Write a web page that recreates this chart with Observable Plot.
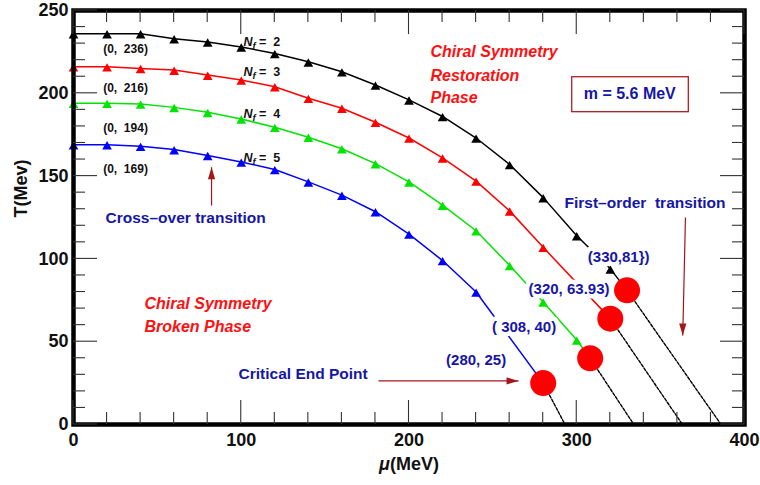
<!DOCTYPE html>
<html>
<head>
<meta charset="utf-8">
<script src="https://cdn.jsdelivr.net/npm/d3@7"></script>
<script src="https://cdn.jsdelivr.net/npm/@observablehq/plot@0.6"></script>
<style>
  html, body { margin: 0; padding: 0; background: #fff; }
  #chart svg { display: block; }
</style>
</head>
<body>
<div id="chart"></div>
<script>
// ---------- data ----------
const mu = [0, 20, 40, 60, 80, 100, 120, 140, 160, 180, 200, 220, 240, 260, 280, 300, 320];
const T_nf2 = [236, 236, 236, 233, 231, 228, 224, 219, 213, 205, 196, 186, 173, 157, 137, 114, 94];
const T_nf3 = [216, 216, 215, 214, 211, 208, 204, 197, 191, 182.5, 173, 161, 147, 129, 107];
const T_nf4 = [194, 194, 193.5, 191.5, 188.5, 184.5, 179.5, 173.5, 166.5, 157.5, 146.5, 132.5, 117, 96, 74, 51];
const T_nf5 = [169, 169, 168, 166, 162.5, 158.5, 154, 146.5, 138.5, 128.5, 115, 99, 80];
const nfValues = [2, 3, 4, 5];
const cepMu = [330, 320, 308, 280];
const cepT = [81, 63.93, 40, 25];
const cepLabels = ["(330,81})", "(320, 63.93)", "( 308, 40)", "(280, 25)"];
const zeroMu = [386, 363, 334, 293];          // where the first-order (dashed) lines reach T = 0
const startLabels = ["(0,  236)", "(0,  216)", "(0,  194)", "(0,  169)"];
const xTicksMajor = [0, 100, 200, 300, 400];
const xTicksMinor = [20, 40, 60, 80, 120, 140, 160, 180, 220, 240, 260, 280, 320, 340, 360, 380];
const yTicksMajor = [0, 50, 100, 150, 200, 250];
const yTicksMinor = [10, 20, 30, 40, 60, 70, 80, 90, 110, 120, 130, 140, 160, 170, 180, 190, 210, 220, 230, 240];

// ---------- layout & styling ----------
const W = 760, H = 485, ML = 73, MR = 16, MT = 10, MB = 61;
const X_DOMAIN = [0, 400], Y_DOMAIN = [0, 250];
const MAJOR = 24, MINOR = 12;   // inward tick lengths in px
const seriesT = [T_nf2, T_nf3, T_nf4, T_nf5];
const seriesColors = ["#000000", "#ff0000", "#00e400", "#0000ff"];
const navy = "#1616a6";
const arrowRed = "#a3161a";
const FONT = "'Liberation Sans', Arial, Helvetica, sans-serif";

// annotation anchors (data units)
const cepLabelPos = [[325, 100.8], [295.4, 81.5], [268.6, 58.6], [240, 38.6]];
const startLabelPos = [[17.7, 226.4], [17.7, 202.9], [17.7, 178.7], [17.7, 154.2]];
const nfLabelPos = [[101.3, 230.7], [101.3, 212.6], [101.3, 187.2], [101.3, 161]];

const marks = [];

// solid crossover curves + dashed first-order lines + triangles
seriesT.forEach((T, s) => {
  const pts = T.map((t, i) => ({mu: mu[i], T: t}));
  const lineRows = pts.concat([{mu: cepMu[s], T: cepT[s]}]);
  marks.push(Plot.line(lineRows, {x: "mu", y: "T", stroke: seriesColors[s], strokeWidth: 1.5}));
  marks.push(Plot.line([{mu: cepMu[s], T: cepT[s]}, {mu: zeroMu[s], T: 0}],
    {x: "mu", y: "T", stroke: "#000", strokeWidth: 1.4, strokeDasharray: "3,1.6"}));
  marks.push(Plot.dot(pts, {x: "mu", y: "T", symbol: "triangle", r: 3.6, fill: seriesColors[s], stroke: "none", dy: 2}));
});

// labels near the critical end points (white box behind)
marks.push(Plot.text(cepLabels.map((t, i) => ({t, mu: cepLabelPos[i][0], T: cepLabelPos[i][1]})), {
  x: "mu", y: "T", text: "t", fill: navy, stroke: "white", strokeWidth: 9, strokeLinejoin: "round",
  fontSize: 15, fontWeight: "bold", textAnchor: "middle"
}));

// critical end points
marks.push(Plot.dot(cepMu.map((m, i) => ({mu: m, T: cepT[i]})), {x: "mu", y: "T", r: 13, fill: "#ff0000", stroke: "none"}));

// (0, T) labels
marks.push(Plot.text(startLabels.map((t, i) => ({t, mu: startLabelPos[i][0], T: startLabelPos[i][1]})), {
  x: "mu", y: "T", text: "t", fill: "#111", fontSize: 12, fontWeight: "bold", textAnchor: "start"
}));

// N_f labels
marks.push(Plot.text(nfValues.map((n, i) => ({t: "N_f = " + n, mu: nfLabelPos[i][0], T: nfLabelPos[i][1]})), {
  x: "mu", y: "T", text: "t", fill: "#111", fontSize: 12.5, fontWeight: "bold", textAnchor: "start"
}));

function note(text, x, y, opts) {
  return Plot.text([{text, x, y}], Object.assign({x: "x", y: "y", text: "text", fontWeight: "bold", textAnchor: "start"}, opts));
}
// phase labels
marks.push(note("Chiral Symmetry", 212.8, 224.8, {fill: "#ff1010", fontSize: 16, fontStyle: "italic"}));
marks.push(note("Restoration", 212.8, 210.7, {fill: "#ff1010", fontSize: 16, fontStyle: "italic"}));
marks.push(note("Phase", 212.8, 197.3, {fill: "#ff1010", fontSize: 16, fontStyle: "italic"}));
marks.push(note("Chiral Symmetry", 42.3, 72.9, {fill: "#ff1010", fontSize: 16, fontStyle: "italic"}));
marks.push(note("Broken Phase", 42.3, 58.8, {fill: "#ff1010", fontSize: 16, fontStyle: "italic"}));

// mass box
marks.push(Plot.rect([{x1: 297.3, x2: 366.8, y1: 188.6, y2: 209.7}],
  {x1: "x1", x2: "x2", y1: "y1", y2: "y2", fill: "white", stroke: "#b01e22", strokeWidth: 1.3}));
marks.push(note("m = 5.6 MeV", 331.6, 199.7, {fill: navy, fontSize: 16, textAnchor: "middle"}));

// other annotations
marks.push(note("First\u2013order  transition", 292.7, 133.5, {fill: navy, fontSize: 15.5}));
marks.push(note("Critical End Point", 98.4, 30.2, {fill: navy, fontSize: 15.5}));
marks.push(note("Cross\u2013over transition", 19.1, 124.8, {fill: navy, fontSize: 15.5}));

// arrows: shaft + filled narrow head
const headSymbol = {draw(ctx) { ctx.moveTo(0, 0); ctx.lineTo(3.6, 12); ctx.lineTo(-3.6, 12); ctx.closePath(); }};
const arrows = [
  {x1: 82.3, y1: 132.2, x2: 82.3, y2: 155.4, rot: 0},     // cross-over (up)
  {x1: 181.8, y1: 26.3, x2: 265.3, y2: 26.3, rot: 90},    // critical end point (right)
  {x1: 364.8, y1: 125, x2: 363.2, y2: 53.7, rot: 180}     // first-order (down)
];
marks.push(Plot.link(arrows, {x1: "x1", y1: "y1", x2: "x2", y2: "y2", stroke: arrowRed, strokeWidth: 1.2}));
marks.push(Plot.dot(arrows, {x: "x2", y: "y2", symbol: headSymbol, r: 4, fill: arrowRed, stroke: "none", rotate: "rot"}));

// tick labels
marks.push(Plot.axisX({anchor: "bottom", ticks: xTicksMajor, tickSize: 0, tickPadding: 9, label: null, fontSize: 18, fontWeight: "bold", fill: "#111"}));
marks.push(Plot.axisY({anchor: "left", ticks: yTicksMajor, tickSize: 0, tickPadding: 5, label: null, fontSize: 18, fontWeight: "bold", fill: "#111"}));

// axis titles
marks.push(Plot.text(["\u03bc(MeV)"], {text: d => d, frameAnchor: "bottom", dy: 45, fontSize: 18, fontWeight: "bold", fill: "#111"}));
marks.push(Plot.text(["T(Mev)"], {text: d => d, frameAnchor: "left", dx: -52.5, rotate: -90, fontSize: 18, fontWeight: "bold", fill: "#111"}));

// frame
marks.push(Plot.frame({stroke: "#000", strokeWidth: 4.5}));

const chart = Plot.plot({
  width: W,
  height: H,
  marginLeft: ML,
  marginRight: MR,
  marginTop: MT,
  marginBottom: MB,
  x: {domain: X_DOMAIN},
  y: {domain: Y_DOMAIN},
  style: {fontFamily: FONT, background: "white", overflow: "visible"},
  marks
});

// rich text: italic N with subscript f, italic mu
d3.select(chart).selectAll("text").each(function () {
  const el = d3.select(this);
  const t = this.textContent;
  const m = t.match(/^N_f(.*)$/);
  if (m) {
    el.text(null);
    el.append("tspan").attr("font-style", "italic").text("N");
    el.append("tspan").attr("font-style", "italic").attr("font-size", "9.5").attr("dy", "3").text("f");
    el.append("tspan").attr("dy", "-3").text(m[1].replace(/ = /, " =  "));
  } else if (t === "\u03bc(MeV)") {
    el.text(null);
    el.append("tspan").attr("font-style", "italic").text("\u03bc");
    el.append("tspan").text("(MeV)");
  }
});

// inward ticks on all four sides, placed through the plot's own x / y scales, drawn on top
const sx = chart.scale("x"), sy = chart.scale("y");
const x0 = sx.apply(X_DOMAIN[0]), x1 = sx.apply(X_DOMAIN[1]);
const y0 = sy.apply(Y_DOMAIN[0]), y1 = sy.apply(Y_DOMAIN[1]);
const tickSegs = [];
[[xTicksMajor, MAJOR], [xTicksMinor, MINOR]].forEach(([ticks, len]) => ticks.forEach(v => {
  const px = sx.apply(v);
  tickSegs.push([px, y0, px, y0 - len], [px, y1, px, y1 + len]);
}));
[[yTicksMajor, MAJOR], [yTicksMinor, MINOR]].forEach(([ticks, len]) => ticks.forEach(v => {
  const py = sy.apply(v);
  tickSegs.push([x0, py, x0 + len, py], [x1, py, x1 - len, py]);
}));
const tg = d3.select(chart).append("g").attr("aria-label", "inner ticks")
  .attr("stroke", "#333").attr("stroke-width", 1.1).attr("fill", "none");
tg.selectAll("path").data(tickSegs).join("path")
  .attr("d", d => `M${d[0]},${d[1]}L${d[2]},${d[3]}`);

document.getElementById("chart").appendChild(chart);
</script>
</body>
</html>
